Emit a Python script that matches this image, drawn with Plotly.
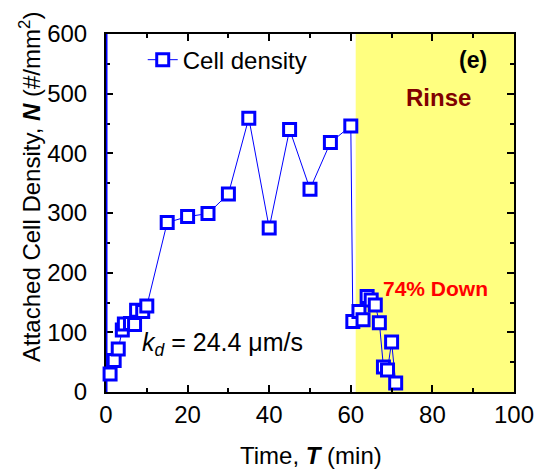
import plotly.graph_objects as go

# ---- data ----
time_min = [1, 2, 3, 4, 4.5, 6, 7, 7.5, 9, 10, 15, 20, 25, 30, 35, 40, 45, 50, 55, 60,
            60.5, 62, 63, 64, 65, 66, 67, 68, 69, 70, 71]
cell_density = [30, 53, 72, 104, 114, 115, 113, 137, 135, 144, 284, 294, 299, 332, 459, 275,
                440, 340, 418, 446, 118, 135, 121, 160, 154, 146, 116, 42, 37, 84, 15]
spike_x = [0, 0]
spike_y = [0, 600]
rinse_start, rinse_end = 61.2, 100
x_ticks = [0, 20, 40, 60, 80, 100]
y_ticks = [0, 100, 200, 300, 400, 500, 600]

FONT = "Arial, Liberation Sans, sans-serif"
BLUE = "#0000FF"

fig = go.Figure()

fig.add_trace(go.Scatter(
    x=spike_x, y=spike_y, mode="lines", line=dict(color=BLUE, width=3),
    showlegend=False, cliponaxis=False, hoverinfo="skip"))

fig.add_trace(go.Scatter(
    x=time_min, y=cell_density, mode="lines+markers", name="Cell density",
    line=dict(color=BLUE, width=1),
    marker=dict(symbol="square", size=12, color="white",
                line=dict(color=BLUE, width=3)),
    cliponaxis=False))

fig.add_shape(type="rect", xref="x", yref="y", x0=rinse_start, x1=rinse_end,
              y0=0, y1=600, fillcolor="#FFFF80", line=dict(width=0), layer="below")

axis_common = dict(showgrid=False, zeroline=False, showline=True, linecolor="black",
                   linewidth=2, mirror="ticks", ticks="inside", ticklen=7, tickwidth=1.5,
                   tickcolor="black", tickfont=dict(family=FONT, size=24, color="black"))

fig.update_xaxes(range=[0, 100], tickvals=x_ticks, ticklabelstandoff=0,
                 minor=dict(dtick=10, ticks="inside", ticklen=4, tickwidth=1.5,
                            tickcolor="black"),
                 **axis_common)
fig.update_yaxes(range=[0, 600], tickvals=y_ticks, ticklabelstandoff=12,
                 minor=dict(dtick=50, ticks="inside", ticklen=4, tickwidth=1.5,
                            tickcolor="black"),
                 layer="below traces", **axis_common)

annos = [
    dict(text="Attached Cell Density, <b><i>N</i></b> (#/mm<sup>2</sup>)",
         xref="paper", yref="paper", x=-0.186, y=0.573, textangle=-90,
         font=dict(family=FONT, size=24, color="black"), showarrow=False,
         xanchor="center", yanchor="middle"),
    dict(text="Time, <b><i>T</i></b> (min)", xref="paper", yref="paper",
         x=0.502, y=-0.176, font=dict(family=FONT, size=24, color="black"),
         showarrow=False, xanchor="center", yanchor="middle"),
    dict(text="<b>(e)</b>", xref="x", yref="y", x=90, y=556,
         font=dict(family=FONT, size=23, color="black"), showarrow=False),
    dict(text="<b>Rinse</b>", xref="x", yref="y", x=81.5, y=494,
         font=dict(family=FONT, size=24, color="#800000"), showarrow=False),
    dict(text="<b>74% Down</b>", xref="x", yref="y", x=80.7, y=174,
         font=dict(family=FONT, size=21, color="#FF0000"), showarrow=False),
    dict(text="<i>k</i><sub><i>d</i></sub> = 24.4 μm/s", xref="x", yref="y",
         x=8.3, y=80, xanchor="left", yanchor="middle",
         font=dict(family=FONT, size=25, color="black"), showarrow=False),
]

# the page adds an 8 px body margin, so the figure is 8 px smaller on each axis
fig.update_layout(
    width=538, height=465,
    margin=dict(l=98, r=32, t=26, b=81),
    paper_bgcolor="white", plot_bgcolor="white",
    annotations=annos,
    legend=dict(x=0.09, y=0.99, xanchor="left", yanchor="top",
                bgcolor="rgba(0,0,0,0)",
                font=dict(family=FONT, size=24, color="black")),
)

fig.write_html("out.html")
